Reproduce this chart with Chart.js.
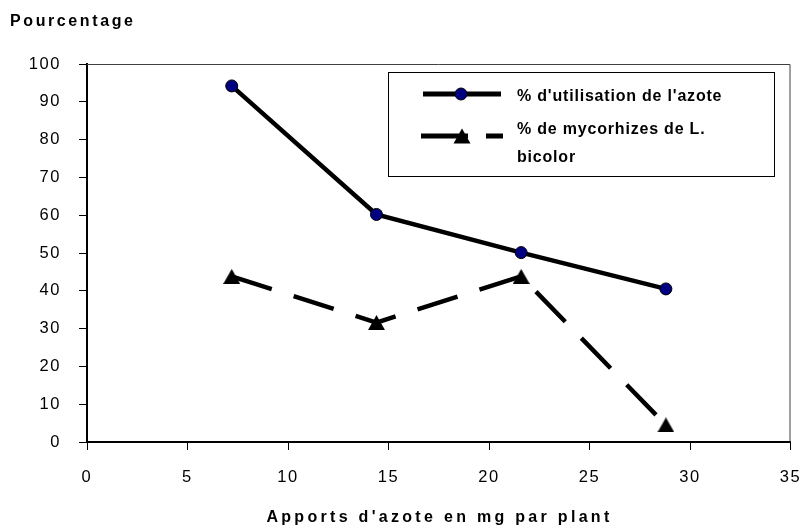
<!DOCTYPE html>
<html><head><meta charset="utf-8">
<script src="https://cdn.jsdelivr.net/npm/chart.js@4/dist/chart.umd.min.js"></script>
<style>
html,body{margin:0;padding:0;background:#fff;}
#wrap{position:relative;width:803px;height:529px;overflow:hidden;font-family:"Liberation Sans",Arial,sans-serif;}
#c{position:absolute;left:0;top:0;}
.t{position:absolute;font-weight:bold;color:#000;white-space:nowrap;}
#legendBox{position:absolute;left:388px;top:72px;width:385px;height:103px;border:1px solid #000;box-sizing:content-box;}
#legendSvg{position:absolute;left:0;top:0;}
</style></head><body>
<div id="wrap">
<canvas id="c" width="803" height="529"></canvas>
<div id="legendBox"></div>
<svg id="legendSvg" width="803" height="529"></svg>
<div class="t" id="ytitle"></div>
<div class="t" id="xtitle"></div>
</div>
<script>
const xValues = [7.2, 14.4, 21.6, 28.8];
const utilisationValues = [94.2, 60.2, 50.1, 40.5];
const mycorhizesValues = [43.8, 31.6, 43.8, 4.5];
const seriesLabels = ["% d'utilisation de l'azote", "% de mycorhizes de L. bicolor"];
const xTickValues = [0, 5, 10, 15, 20, 25, 30, 35];
const yTickValues = [0, 10, 20, 30, 40, 50, 60, 70, 80, 90, 100];
const yTitle = "Pourcentage";
const xTitle = "Apports d'azote en mg par plant";

// centered triangle marker
function makeTriangle(w, h) {
  const cv = document.createElement('canvas');
  cv.width = w; cv.height = h;
  const g = cv.getContext('2d');
  g.fillStyle = '#000';
  g.beginPath();
  g.moveTo(w / 2, 0); g.lineTo(w, h); g.lineTo(0, h); g.closePath();
  g.fill();
  return cv;
}
const tri = makeTriangle(17, 15);

const LS = '1.6px';
const spacingPlugin = {
  id: 'spacing',
  beforeLayout(c) { c.ctx.letterSpacing = LS; },
  beforeDraw(c) { c.ctx.letterSpacing = LS; }
};
const framePlugin = {
  id: 'frame',
  beforeDatasetsDraw(c) {
    const a = c.chartArea, ctx = c.ctx;
    ctx.save();
    ctx.strokeStyle = '#404040';
    ctx.lineWidth = 1;
    ctx.beginPath();
    ctx.moveTo(a.left, a.top + 0.5);
    ctx.lineTo(a.right - 0.5, a.top + 0.5);
    ctx.lineTo(a.right - 0.5, a.bottom);
    ctx.stroke();
    ctx.restore();
  }
};

const toPts = (ys) => xValues.map((x, i) => ({ x: x, y: ys[i] }));
const tickFont = { family: '"Liberation Sans", Arial, sans-serif', size: 16.5 };

new Chart(document.getElementById('c'), {
  type: 'scatter',
  data: {
    datasets: [
      {
        label: seriesLabels[0],
        data: toPts(utilisationValues),
        showLine: true,
        borderColor: '#000',
        borderWidth: 4.5,
        pointStyle: 'circle',
        pointRadius: 6,
        pointBackgroundColor: '#000080',
        pointBorderColor: '#000',
        pointBorderWidth: 1,
        order: 2
      },
      {
        label: seriesLabels[1],
        data: toPts(mycorhizesValues),
        showLine: true,
        borderColor: '#000',
        borderWidth: 4.5,
        borderDash: [42, 23],
        pointStyle: tri,
        pointRadius: 8,
        pointBackgroundColor: '#000',
        order: 1
      }
    ]
  },
  options: {
    responsive: false,
    animation: false,
    devicePixelRatio: 1,
    layout: { padding: { left: 0, right: 11, top: 64, bottom: 0 } },
    plugins: { legend: { display: false }, tooltip: { enabled: false }, title: { display: false } },
    scales: {
      x: {
        type: 'linear', min: 0, max: 35,
        afterBuildTicks(s) { s.ticks = xTickValues.map(v => ({ value: v })); },
        afterFit(s) { s.height = 87; s.paddingLeft = 0; s.paddingRight = 0; },
        grid: { display: true, drawOnChartArea: false, drawTicks: true, tickLength: 8, color: '#000', lineWidth: 1 },
        border: { display: true, color: '#000', width: 2 },
        ticks: { color: '#000', padding: 18, font: tickFont, maxRotation: 0, autoSkip: false }
      },
      y: {
        type: 'linear', min: 0, max: 100,
        afterBuildTicks(s) { s.ticks = yTickValues.map(v => ({ value: v })); },
        afterFit(s) { s.width = 87; s.paddingTop = 0; s.paddingBottom = 0; },
        grid: { display: true, drawOnChartArea: false, drawTicks: true, tickLength: 8, color: '#000', lineWidth: 1 },
        border: { display: true, color: '#000', width: 2 },
        ticks: { color: '#000', padding: 18, font: tickFont, autoSkip: false }
      }
    }
  },
  plugins: [spacingPlugin, framePlugin]
});

// titles
const yt = document.getElementById('ytitle');
yt.textContent = yTitle;
Object.assign(yt.style, { left: '10px', top: '13px', fontSize: '16px', lineHeight: '16px', letterSpacing: '2.6px' });
const xt = document.getElementById('xtitle');
xt.textContent = xTitle;
Object.assign(xt.style, { left: '87px', width: '705px', textAlign: 'center', top: '509px', fontSize: '16px', lineHeight: '16px', letterSpacing: '3.3px', paddingLeft: '0px', boxSizing: 'border-box' });

// legend
const NS = 'http://www.w3.org/2000/svg';
const svg = document.getElementById('legendSvg');
function el(tag, attrs) { const e = document.createElementNS(NS, tag); for (const k in attrs) e.setAttribute(k, attrs[k]); svg.appendChild(e); return e; }
el('line', { x1: 423, y1: 94, x2: 501, y2: 94, stroke: '#000', 'stroke-width': 5 });
el('circle', { cx: 461, cy: 94, r: 6, fill: '#000080', stroke: '#000', 'stroke-width': 1 });
el('line', { x1: 421, y1: 136, x2: 503, y2: 136, stroke: '#000', 'stroke-width': 5, 'stroke-dasharray': '47 18 17' });
el('polygon', { points: '462,128.5 470.5,143.5 453.5,143.5', fill: '#000' });

const wrap = document.getElementById('wrap');
const legendTops = [81.5, 115];
seriesLabels.forEach((lab, i) => {
  const d = document.createElement('div');
  d.className = 't';
  d.textContent = lab;
  Object.assign(d.style, { left: '517px', top: legendTops[i] + 'px', width: '215px', whiteSpace: 'normal', fontSize: '16px', lineHeight: '28px', letterSpacing: '0.8px' });
  wrap.appendChild(d);
});
</script>
</body></html>
